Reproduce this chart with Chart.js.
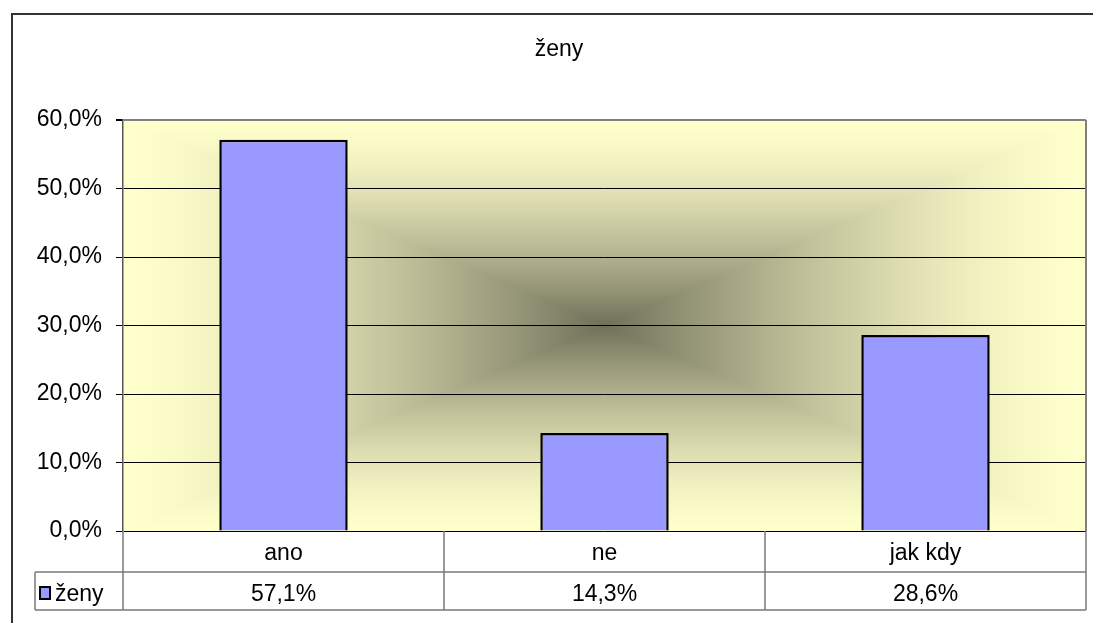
<!DOCTYPE html>
<html>
<head>
<meta charset="utf-8">
<script src="https://cdn.jsdelivr.net/npm/chart.js@4"></script>
<style>
    html, body { margin: 0; padding: 0; background: #fff; overflow: hidden; }
    #wrap { position: relative; width: 1093px; height: 623px; }
</style>
</head>
<body>
<div id="wrap"><canvas id="chart"></canvas></div>
<script>
    var chartTitle = 'ženy';
    var categories = ['ano', 'ne', 'jak kdy'];
    var seriesName = 'ženy';
    var seriesValues = [57.1, 14.3, 28.6];
    var yTicks = [0, 10, 20, 30, 40, 50, 60];

    var FONT = '"Liberation Sans", Arial, sans-serif';
    var FONT_SIZE = 23;
    var BAR_COLOR = '#9999FF';

    function fmtPct(v) {
        return v.toFixed(1).replace('.', ',') + '%';
    }

    // rectangular "from center" gradient like the old Excel plot area
    var bgCache = null;
    function buildBackground(w, h) {
        var c = document.createElement('canvas');
        c.width = w;
        c.height = h;
        var ctx = c.getContext('2d');
        var img = ctx.createImageData(w, h);
        var inner = [112, 112, 90], outer = [255, 255, 204];
        var cx = w / 2, cy = h / 2;
        for (var y = 0; y < h; y++) {
            for (var x = 0; x < w; x++) {
                var t = Math.max(Math.abs(x + 0.5 - cx) / cx, Math.abs(y + 0.5 - cy) / cy);
                t = 1 - Math.pow(1 - Math.min(t, 1), 1.5);
                var i = (y * w + x) * 4;
                img.data[i] = inner[0] + (outer[0] - inner[0]) * t;
                img.data[i + 1] = inner[1] + (outer[1] - inner[1]) * t;
                img.data[i + 2] = inner[2] + (outer[2] - inner[2]) * t;
                img.data[i + 3] = 255;
            }
        }
        ctx.putImageData(img, 0, 0);
        return c;
    }

    var framePlugin = {
        id: 'frame',
        beforeDraw: function (chart) {
            var ctx = chart.ctx, a = chart.chartArea;
            ctx.save();
            ctx.fillStyle = '#fff';
            ctx.fillRect(0, 0, chart.width, chart.height);
            ctx.strokeStyle = '#333';
            ctx.lineWidth = 2;
            ctx.strokeRect(12, 14, 1200, 800);

            var w = Math.round(a.right - a.left), h = Math.round(a.bottom - a.top);
            if (!bgCache || bgCache.width !== w || bgCache.height !== h) {
                bgCache = buildBackground(w, h);
            }
            ctx.drawImage(bgCache, a.left, a.top);

            ctx.fillStyle = '#000';
            ctx.font = FONT_SIZE + 'px ' + FONT;
            ctx.textAlign = 'center';
            ctx.textBaseline = 'alphabetic';
            ctx.fillText(chartTitle, 559, 56);
            ctx.restore();
        },
        beforeDatasetsDraw: function (chart) {
            var ctx = chart.ctx, a = chart.chartArea;
            ctx.save();
            ctx.strokeStyle = '#808080';
            ctx.lineWidth = 2;
            ctx.beginPath();
            ctx.moveTo(a.right, a.top);
            ctx.lineTo(a.right, a.bottom);
            ctx.stroke();
            ctx.restore();
        },
        afterDraw: function (chart) {
            // data table under the plot
            var ctx = chart.ctx, a = chart.chartArea, xs = chart.scales.x;
            var row1 = a.bottom, row2 = a.bottom + 41, row3 = a.bottom + 79;
            var legendLeft = 35;
            var bounds = [a.left];
            for (var i = 1; i < categories.length; i++) {
                bounds.push((xs.getPixelForValue(i - 1) + xs.getPixelForValue(i)) / 2);
            }
            bounds.push(a.right);

            ctx.save();
            ctx.strokeStyle = '#7a7a7a';
            ctx.lineWidth = 1.5;
            ctx.beginPath();
            bounds.forEach(function (bx) {
                ctx.moveTo(bx, row1);
                ctx.lineTo(bx, row3);
            });
            ctx.moveTo(legendLeft, row2);
            ctx.lineTo(a.right, row2);
            ctx.moveTo(legendLeft, row3);
            ctx.lineTo(a.right, row3);
            ctx.moveTo(legendLeft, row2);
            ctx.lineTo(legendLeft, row3);
            ctx.stroke();

            ctx.fillStyle = '#000';
            ctx.font = FONT_SIZE + 'px ' + FONT;
            ctx.textAlign = 'center';
            ctx.textBaseline = 'alphabetic';
            categories.forEach(function (c, i) {
                var px = xs.getPixelForValue(i);
                ctx.fillText(c, px, row1 + 29);
                ctx.fillText(fmtPct(seriesValues[i]), px, row2 + 29);
            });

            ctx.fillStyle = BAR_COLOR;
            ctx.fillRect(40, 587, 10, 12);
            ctx.strokeStyle = '#000';
            ctx.lineWidth = 2;
            ctx.strokeRect(40, 587, 10, 12);
            ctx.fillStyle = '#000';
            ctx.textAlign = 'left';
            ctx.fillText(seriesName, 55, row2 + 29);
            ctx.restore();
        }
    };

    new Chart(document.getElementById('chart'), {
        type: 'bar',
        data: {
            labels: categories,
            datasets: [{
                label: seriesName,
                data: seriesValues,
                backgroundColor: BAR_COLOR,
                borderColor: '#000',
                borderWidth: 2.5,
                barPercentage: 0.4,
                categoryPercentage: 1
            }]
        },
        options: {
            responsive: true,
            maintainAspectRatio: false,
            animation: false,
            layout: { padding: { top: 120, right: 7, bottom: 92, left: 0 } },
            plugins: {
                legend: { display: false },
                title: { display: false },
                tooltip: { enabled: false }
            },
            scales: {
                x: { display: false },
                y: {
                    min: yTicks[0],
                    max: yTicks[yTicks.length - 1],
                    afterBuildTicks: function (scale) {
                        scale.ticks = yTicks.map(function (v) { return { value: v }; });
                    },
                    afterFit: function (scale) { scale.width = 123; },
                    border: { color: '#555', width: 1.5 },
                    grid: {
                        color: function (c) { return c.tick && c.tick.value === 60 ? '#808080' : '#000'; },
                        lineWidth: function (c) { return c.tick && c.tick.value === 60 ? 2 : 1; },
                        tickColor: '#000',
                        tickLength: 7
                    },
                    ticks: {
                        padding: 14,
                        color: '#000',
                        font: { family: FONT, size: FONT_SIZE },
                        callback: function (v) { return fmtPct(v); }
                    }
                }
            }
        },
        plugins: [framePlugin]
    });
</script>
</body>
</html>
